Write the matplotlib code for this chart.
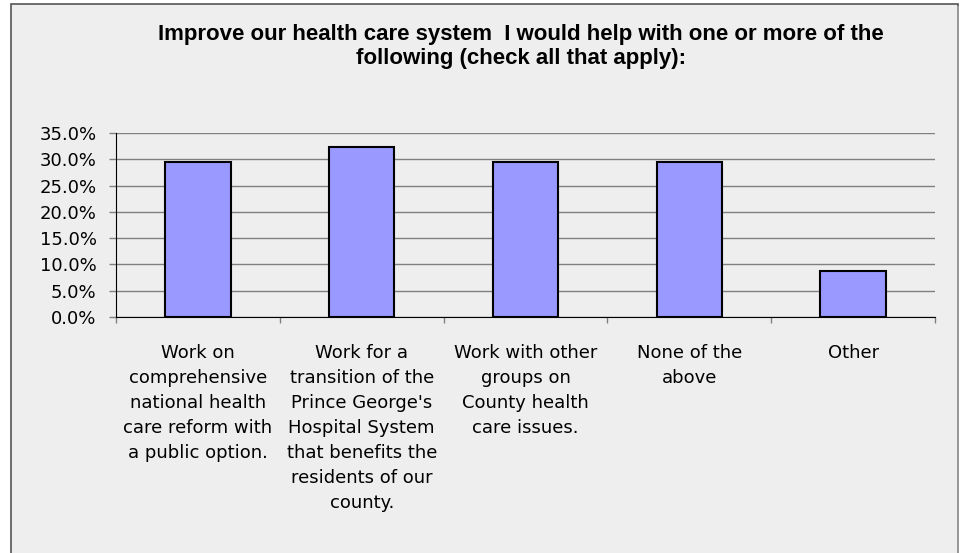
import matplotlib.pyplot as plt
from matplotlib.patches import Rectangle
from matplotlib.ticker import FuncFormatter, FixedLocator

# Données
categories = [
    "Work on\ncomprehensive\nnational health\ncare reform with\na public option.",
    "Work for a\ntransition of the\nPrince George's\nHospital System\nthat benefits the\nresidents of our\ncounty.",
    "Work with other\ngroups on\nCounty health\ncare issues.",
    "None of the\nabove",
    "Other",
]
values = [29.4, 32.4, 29.4, 29.4, 8.8]
title = "Improve our health care system  I would help with one or more of the\nfollowing (check all that apply):"

W, H = 963, 553
fig = plt.figure(figsize=(W / 100, H / 100), dpi=100, facecolor="white")

# Cadre gris du graphique
fig.patches.append(Rectangle((11 / W, -0.05), (958 - 11) / W, 1.05 - 4 / H,
                             transform=fig.transFigure, facecolor="#eeeeee",
                             edgecolor="#555555", linewidth=1.2, zorder=-10))
fig.patches.append(Rectangle((957 / W, -0.05), 2 / W, 1.05 - 6 / H,
                             transform=fig.transFigure, facecolor="#999999",
                             edgecolor="none", zorder=-10))

ax = fig.add_axes([116 / W, 1 - 317 / H, (935 - 116) / W, (317 - 133) / H])
ax.set_facecolor("none")

x = list(range(len(values)))
ax.bar(x, values, width=0.4, color="#9999ff", edgecolor="black", linewidth=1.5, zorder=3)

ax.set_xlim(-0.5, len(values) - 0.5)
ax.set_ylim(0, 35)
ax.set_yticks([0, 5, 10, 15, 20, 25, 30, 35])
ax.yaxis.set_major_formatter(FuncFormatter(lambda v, p: f"{v:.1f}%"))
ax.grid(axis="y", color="#808080", linewidth=1, zorder=0)

# Graduations entre les catégories
ax.xaxis.set_major_locator(FixedLocator([i - 0.5 for i in range(len(values) + 1)]))
ax.xaxis.set_major_formatter(FuncFormatter(lambda v, p: ""))
ax.tick_params(axis="x", length=4.3, color="#808080", width=1)
ax.tick_params(axis="y", length=5, color="#808080", width=1, labelsize=13,
               pad=9)
for lab in ax.get_yticklabels():
    lab.set_family("DejaVu Sans")

for i, c in enumerate(categories):
    ax.text(i, -0.148, c, transform=ax.get_xaxis_transform(), ha="center", va="top",
            fontsize=13, family="DejaVu Sans", linespacing=1.5)

for s in ["top", "right"]:
    ax.spines[s].set_visible(False)
ax.spines["left"].set_color("black")
ax.spines["bottom"].set_color("black")

fig.text(521 / W, 1 - 24 / H, title, ha="center", va="top", fontsize=16,
         fontweight="bold", family="Liberation Sans", linespacing=1.2)

plt.savefig("out.png", dpi=100)
